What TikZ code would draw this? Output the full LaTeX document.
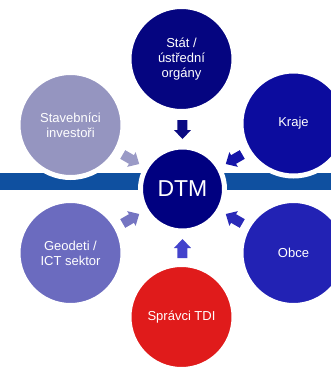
\documentclass[tikz,border=0pt]{standalone}
\usepackage{fontspec}
\setmainfont{Liberation Sans}
\begin{document}
\begin{tikzpicture}[x=1pt,y=1pt,
  bubble/.style={circle, draw=white, line width=5pt, minimum size=105pt, inner sep=0pt,
    text=white, align=center, font=\fontsize{13}{15}\selectfont},
  hub/.style={circle, draw=white, line width=5pt, minimum size=84pt, inner sep=0pt,
    text=white, font=\fontsize{23}{26}\selectfont},
  bandstyle/.style={fill=bandc},
]
\definecolor{bandc}{HTML}{0F50A0}
\definecolor{dtmc}{HTML}{000080}
\definecolor{topc}{HTML}{050580}
\definecolor{krajec}{HTML}{0C0C9E}
\definecolor{obcec}{HTML}{2222B4}
\definecolor{geoc}{HTML}{6B6BBF}
\definecolor{stavc}{HTML}{9595C0}
\definecolor{sprc}{HTML}{E01B1B}
\definecolor{atop}{HTML}{0A0A82}
\definecolor{akraje}{HTML}{1414A8}
\definecolor{aobce}{HTML}{2A2AB8}
\definecolor{abot}{HTML}{4343CC}
\definecolor{ageo}{HTML}{7575C2}
\definecolor{astav}{HTML}{9A9AC6}
\useasboundingbox (0,0) rectangle (331,368);
\clip (0,0) rectangle (331,368);
% band
\fill[bandstyle] (0,178) rectangle (331,195);
% outer circles
\node[bubble, fill=topc] (stat) at (181.5,309) {Stát /\\ústřední\\orgány};
\node[bubble, fill=krajec] (kraje) at (293.5,244.5) {Kraje};
\node[bubble, fill=obcec] (obce) at (293.5,115) {Obce};
\node[bubble, fill=sprc] (spr) at (181.5,51) {Správci TDI};
\node[bubble, fill=geoc] (geo) at (70.5,115) {Geodeti /\\ICT sektor};
\node[bubble, fill=stavc] (stav) at (70.5,243) {Stavebníci\\investoři};
% hub
\node[hub, fill=dtmc] (dtm) at (182.5,179) {DTM};
% block arrows
\newcommand\blockarrow[2]{%
  \fill[#2, shift={(dtm.center)}, rotate=#1]
    (50,0) -- (59,8.5) -- (59,5) -- (69,5) -- (69,-5) -- (59,-5) -- (59,-8.5) -- cycle;}
\blockarrow{90}{atop}
\blockarrow{30}{akraje}
\blockarrow{-30}{aobce}
\blockarrow{-90}{abot}
\blockarrow{-150}{ageo}
\blockarrow{150}{astav}
\end{tikzpicture}
\end{document}
